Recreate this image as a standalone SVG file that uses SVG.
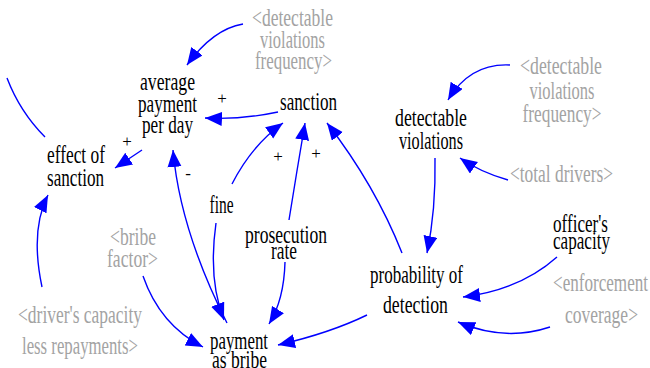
<svg xmlns="http://www.w3.org/2000/svg" width="650" height="368" viewBox="0 0 650 368">
<style>
text{font-size:25px;text-anchor:middle}
.k{fill:#000}
.g{fill:#a3a3a3}
.s{font-size:17px;fill:#000}
.c{fill:none;stroke:#0000ff;stroke-width:1.4}
</style>
<defs>
<marker id="ah" markerUnits="userSpaceOnUse" markerWidth="18" markerHeight="15" refX="17" refY="7" orient="auto">
<path d="M0,0 L17,7 L0,14 Z" fill="#0000ff"/>
</marker>
</defs>
<rect width="650" height="368" fill="#fff"/>
<g font-family="'Liberation Serif', serif">
<g id="connectors">
<path class="c" d="M243,24 Q213,29 187,65" marker-end="url(#ah)"/>
<path class="c" d="M278,112 Q240,120 205,118" marker-end="url(#ah)"/>
<path class="c" d="M142,150 L115,168" marker-end="url(#ah)"/>
<path class="c" d="M7,78 Q20,112 45,137"/>
<path class="c" d="M42,287 Q30,230 48,195" marker-end="url(#ah)"/>
<path class="c" d="M232,184 Q252,145 283,123" marker-end="url(#ah)"/>
<path class="c" d="M289,220 Q297,170 305,123" marker-end="url(#ah)"/>
<path class="c" d="M402,253 Q375,185 327,123" marker-end="url(#ah)"/>
<path class="c" d="M227,323 Q180,230 173,150" marker-end="url(#ah)"/>
<path class="c" d="M216,223 Q208,280 224,320" marker-end="url(#ah)"/>
<path class="c" d="M285,262 Q284,300 269,324" marker-end="url(#ah)"/>
<path class="c" d="M143,276 Q160,325 203,347" marker-end="url(#ah)"/>
<path class="c" d="M367,315 Q330,333 278,345" marker-end="url(#ah)"/>
<path class="c" d="M435,158 Q436,210 427,253" marker-end="url(#ah)"/>
<path class="c" d="M510,65 Q470,63 448,100" marker-end="url(#ah)"/>
<path class="c" d="M508,180 Q480,172 460,158" marker-end="url(#ah)"/>
<path class="c" d="M557,257 Q520,290 463,297" marker-end="url(#ah)"/>
<path class="c" d="M550,327 Q505,342 458,322" marker-end="url(#ah)"/>
<text class="s" x="222" y="104">+</text>
<text class="s" x="127" y="147">+</text>
<text class="s" x="278" y="162">+</text>
<text class="s" x="316" y="159">+</text>
<text class="s" x="188" y="179">-</text>
</g>
<g id="freq1">
<text class="g" x="292.5" y="26" textLength="81" lengthAdjust="spacingAndGlyphs">&lt;detectable</text>
<text class="g" x="292.5" y="48" textLength="65" lengthAdjust="spacingAndGlyphs">violations</text>
<text class="g" x="293.5" y="69" textLength="77" lengthAdjust="spacingAndGlyphs">frequency&gt;</text>
</g>
<g id="avg">
<text class="k" x="167.5" y="90" textLength="55" lengthAdjust="spacingAndGlyphs">average</text>
<text class="k" x="167.5" y="111.5" textLength="59" lengthAdjust="spacingAndGlyphs">payment</text>
<text class="k" x="167.5" y="133" textLength="51" lengthAdjust="spacingAndGlyphs">per day</text>
</g>
<g id="sanction">
<text class="k" x="308.5" y="110" textLength="57" lengthAdjust="spacingAndGlyphs">sanction</text>
</g>
<g id="effect">
<text class="k" x="76" y="163" textLength="58" lengthAdjust="spacingAndGlyphs">effect of</text>
<text class="k" x="75.5" y="186" textLength="57" lengthAdjust="spacingAndGlyphs">sanction</text>
</g>
<g id="detviol">
<text class="k" x="431" y="126" textLength="72" lengthAdjust="spacingAndGlyphs">detectable</text>
<text class="k" x="431" y="149" textLength="64" lengthAdjust="spacingAndGlyphs">violations</text>
</g>
<g id="freq2">
<text class="g" x="561" y="74" textLength="82" lengthAdjust="spacingAndGlyphs">&lt;detectable</text>
<text class="g" x="562" y="98.5" textLength="65" lengthAdjust="spacingAndGlyphs">violations</text>
<text class="g" x="562" y="122" textLength="79" lengthAdjust="spacingAndGlyphs">frequency&gt;</text>
</g>
<g id="total">
<text class="g" x="561.5" y="182" textLength="103" lengthAdjust="spacingAndGlyphs">&lt;total drivers&gt;</text>
</g>
<g id="fine">
<text class="k" x="221.5" y="213" textLength="24" lengthAdjust="spacingAndGlyphs">fine</text>
</g>
<g id="prosecution">
<text class="k" x="286" y="243" textLength="82" lengthAdjust="spacingAndGlyphs">prosecution</text>
<text class="k" x="284" y="259" textLength="26" lengthAdjust="spacingAndGlyphs">rate</text>
</g>
<g id="bribefactor">
<text class="g" x="133" y="245" textLength="46" lengthAdjust="spacingAndGlyphs">&lt;bribe</text>
<text class="g" x="132.5" y="267" textLength="51" lengthAdjust="spacingAndGlyphs">factor&gt;</text>
</g>
<g id="driver">
<text class="g" x="80" y="323" textLength="124" lengthAdjust="spacingAndGlyphs">&lt;driver's capacity</text>
<text class="g" x="80" y="354" textLength="116" lengthAdjust="spacingAndGlyphs">less repayments&gt;</text>
</g>
<g id="payment">
<text class="k" x="239" y="349" textLength="58" lengthAdjust="spacingAndGlyphs">payment</text>
<text class="k" x="239.5" y="368" textLength="55" lengthAdjust="spacingAndGlyphs">as bribe</text>
</g>
<g id="prob">
<text class="k" x="416.5" y="283" textLength="93" lengthAdjust="spacingAndGlyphs">probability of</text>
<text class="k" x="415.5" y="313" textLength="65" lengthAdjust="spacingAndGlyphs">detection</text>
</g>
<g id="officer">
<text class="k" x="580.5" y="232" textLength="55" lengthAdjust="spacingAndGlyphs">officer's</text>
<text class="k" x="581.5" y="249" textLength="57" lengthAdjust="spacingAndGlyphs">capacity</text>
</g>
<g id="enforcement">
<text class="g" x="600.5" y="291" textLength="95" lengthAdjust="spacingAndGlyphs">&lt;enforcement</text>
<text class="g" x="601.5" y="323" textLength="73" lengthAdjust="spacingAndGlyphs">coverage&gt;</text>
</g>
</g>
</svg>
